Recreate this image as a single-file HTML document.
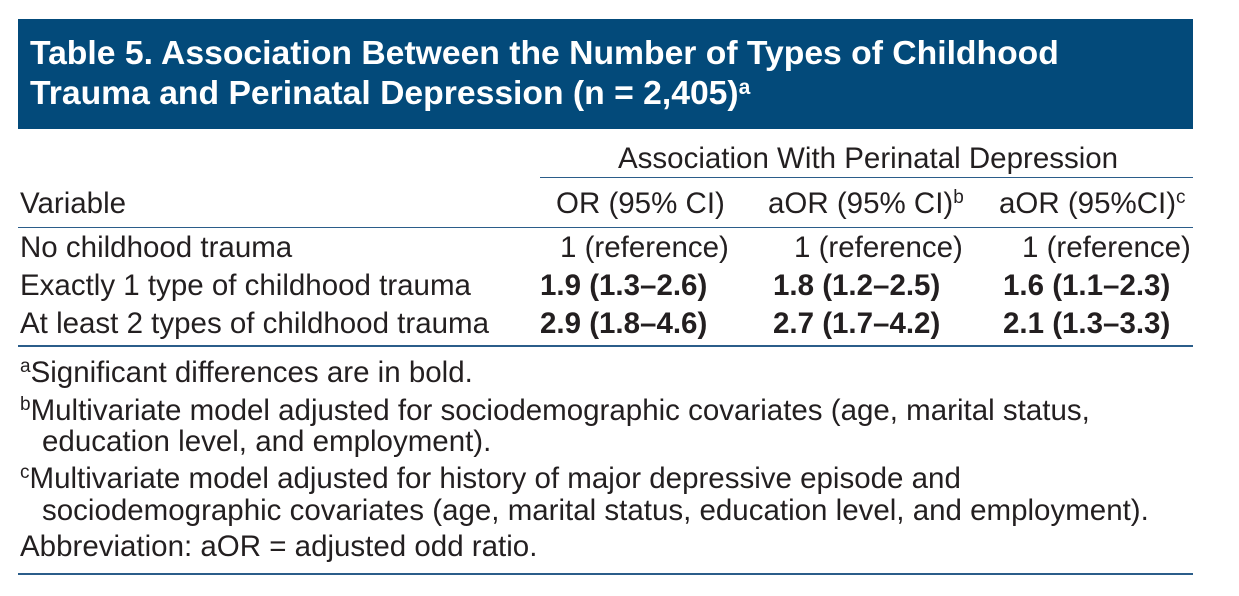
<!DOCTYPE html>
<html><head><meta charset="utf-8">
<style>
body{margin:0;width:1239px;height:596px;background:#fff;position:relative;overflow:hidden;font-family:"Liberation Sans",sans-serif;color:#231f20}
.t{position:absolute;white-space:nowrap;font-size:29.5px;line-height:32px}
.b{font-weight:bold}
.ln{position:absolute;height:2px;background:#2b5d8a}
sup{font-size:19px;vertical-align:10px;line-height:0}
.hdr{position:absolute;left:18px;top:19px;width:1175px;height:110px;background:#034a7a}
.ti{position:absolute;left:12px;color:#fff;font-weight:bold;font-size:33.7px;line-height:38px;white-space:nowrap}
</style></head><body>
<div class="hdr">
<div class="ti" style="top:15px">Table 5. Association Between the Number of Types of Childhood</div>
<div class="ti" style="top:55px">Trauma and Perinatal Depression (n = 2,405)<sup style="font-size:21px">a</sup></div>
</div>
<div class="t" style="left:618px;top:143px">Association With Perinatal Depression</div>
<div class="ln" style="left:540px;top:177px;width:653px;height:1px"></div>
<div class="t" style="left:20px;top:188px">Variable</div>
<div class="t" style="left:556px;top:188px">OR (95% CI)</div>
<div class="t" style="left:768px;top:188px">aOR (95% CI)<sup>b</sup></div>
<div class="t" style="left:999px;top:188px">aOR (95%CI)<sup>c</sup></div>
<div class="ln" style="left:18px;top:227px;width:1175px;height:1px"></div>

<div class="t" style="left:20px;top:232px">No childhood trauma</div>
<div class="t" style="left:560px;top:232px">1 (reference)</div>
<div class="t" style="left:794px;top:232px">1 (reference)</div>
<div class="t" style="left:1022px;top:232px">1 (reference)</div>

<div class="t" style="left:20px;top:270px">Exactly 1 type of childhood trauma</div>
<div class="t b" style="left:540px;top:270px">1.9 (1.3–2.6)</div>
<div class="t b" style="left:773px;top:270px">1.8 (1.2–2.5)</div>
<div class="t b" style="left:1003px;top:270px">1.6 (1.1–2.3)</div>

<div class="t" style="left:20px;top:308px">At least 2 types of childhood trauma</div>
<div class="t b" style="left:540px;top:308px">2.9 (1.8–4.6)</div>
<div class="t b" style="left:773px;top:308px">2.7 (1.7–4.2)</div>
<div class="t b" style="left:1003px;top:308px">2.1 (1.3–3.3)</div>
<div class="ln" style="left:18px;top:345px;width:1175px"></div>

<div class="t" style="left:20px;top:357px"><sup>a</sup>Significant differences are in bold.</div>
<div class="t" style="left:20px;top:395px"><sup>b</sup>Multivariate model adjusted for sociodemographic covariates (age, marital status,</div>
<div class="t" style="left:42px;top:426px">education level, and employment).</div>
<div class="t" style="left:20px;top:463px"><sup>c</sup>Multivariate model adjusted for history of major depressive episode and</div>
<div class="t" style="left:42px;top:495px">sociodemographic covariates (age, marital status, education level, and employment).</div>
<div class="t" style="left:20px;top:531px">Abbreviation: aOR = adjusted odd ratio.</div>
<div class="ln" style="left:18px;top:573px;width:1175px"></div>
</body></html>
